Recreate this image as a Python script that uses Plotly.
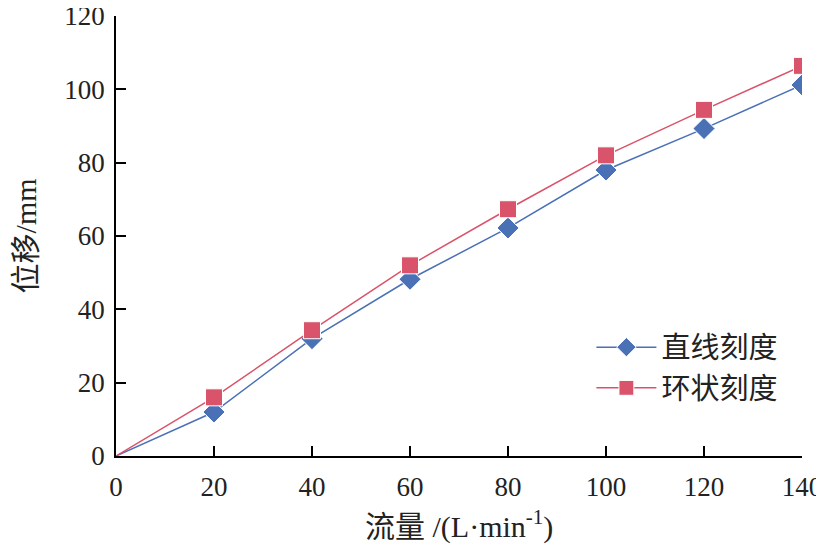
import plotly.graph_objects as go

# flow rate (L/min) and displacement (mm)
flow = [0, 20, 40, 60, 80, 100, 120, 140]
disp_straight = [0, 12, 32, 48.2, 62.2, 78, 89.3, 101.2]
disp_ring = [0, 16, 34.3, 52, 67.3, 82, 94.4, 106.4]

series_names = ["直线刻度", "环状刻度"]

font_family = "Liberation Serif, Noto Sans CJK SC"
txt = "#222"

# no marker drawn at the origin
sizes_d = [0] + [17] * (len(flow) - 1)
sizes_s = [0] + [17] * (len(flow) - 1)

fig = go.Figure()
fig.add_trace(go.Scatter(
    x=flow, y=disp_straight, name=series_names[0], mode="lines+markers",
    line=dict(color="#4a70b6", width=1.5),
    marker=dict(symbol="diamond", size=sizes_d, color="#4a70b6", opacity=1),
))
fig.add_trace(go.Scatter(
    x=flow, y=disp_ring, name=series_names[1], mode="lines+markers",
    line=dict(color="#d9536a", width=1.5),
    marker=dict(symbol="square", size=sizes_s, color="#d9536a", opacity=1),
))

axis_common = dict(
    showgrid=False, zeroline=False, showline=True, linecolor="black", linewidth=1.5,
    ticks="inside", ticklen=10, tickwidth=1.5, tickcolor="black",
    tickfont=dict(size=27, color=txt), automargin=False, ticklabeloverflow="allow",
)
fig.update_xaxes(range=[0, 140], dtick=20, ticklabelstandoff=6, **axis_common)
fig.update_yaxes(range=[0, 120], dtick=20, ticklabelstandoff=4, **axis_common)

# axis titles as annotations
fig.add_annotation(text="流量 /(L·min<sup>-1</sup>)", x=0.5, y=-0.155, xref="paper", yref="paper",
                   xanchor="center", yanchor="middle", showarrow=False, font=dict(size=30, color=txt))
fig.add_annotation(text="位移/mm", x=-0.132, y=0.5, xref="paper", yref="paper", textangle=-90,
                   xanchor="center", yanchor="middle", showarrow=False, font=dict(size=30, color=txt))

fig.update_layout(
    width=816, height=538,
    margin=dict(l=108, r=22, t=8, b=90),
    plot_bgcolor="white", paper_bgcolor="white",
    font=dict(family=font_family),
    showlegend=True,
    legend=dict(x=0.693, y=0.305, xanchor="left", yanchor="top",
                font=dict(size=29, color=txt), bgcolor="rgba(0,0,0,0)",
                itemwidth=60, tracegroupgap=0),
)

fig.write_html("out.html")
